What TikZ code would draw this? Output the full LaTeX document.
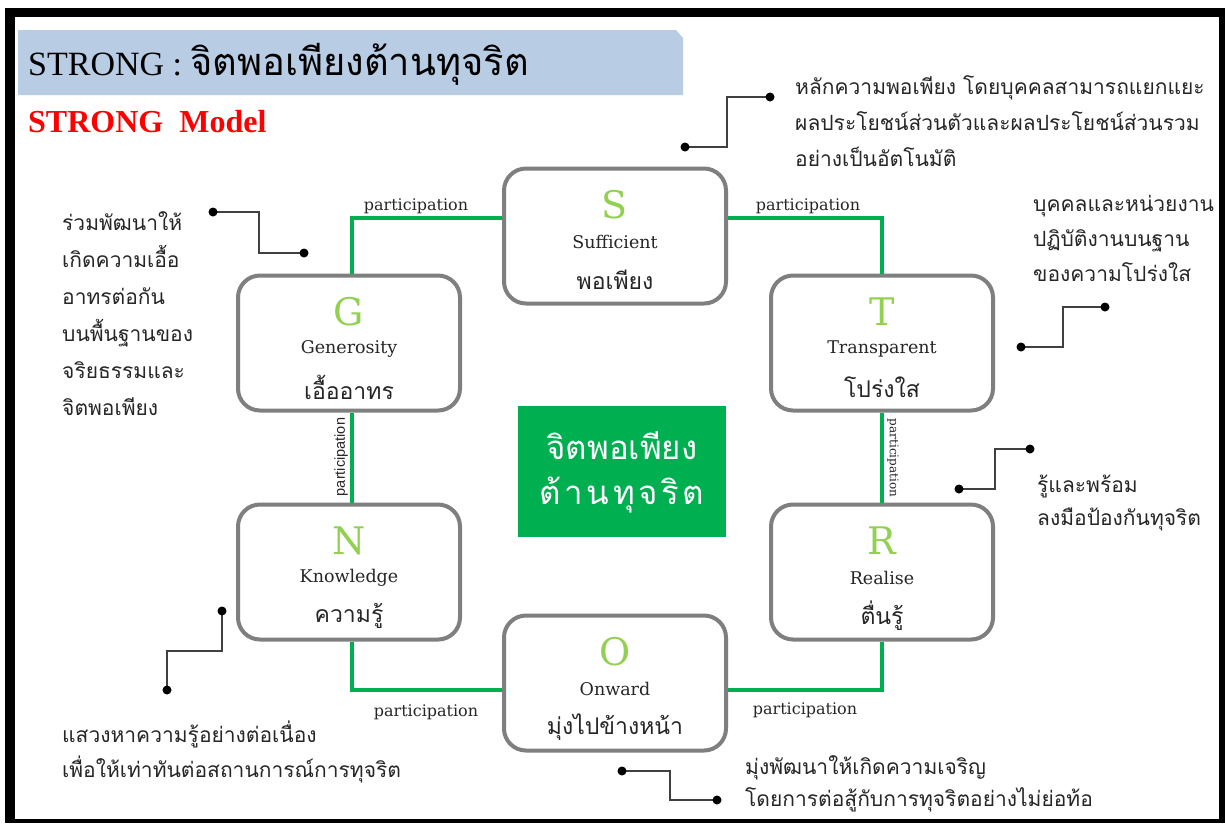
\documentclass[tikz,border=0pt]{standalone}
\usepackage{fontspec}
\setmainfont{Liberation Serif}
\newfontfamily\thai[Script=Thai]{Loma}
\newfontfamily\thaisp[Script=Thai,LetterSpace=11]{Loma}
\newfontfamily\engf{DejaVu Serif}
\newfontfamily\sansf{Liberation Sans}
\definecolor{linegreen}{HTML}{00B050}
\definecolor{lettergreen}{HTML}{92D050}
\definecolor{boxgray}{HTML}{7F7F7F}
\definecolor{callgray}{HTML}{404040}
\definecolor{titleblue}{HTML}{B8CCE4}
\definecolor{txt}{HTML}{262626}
\tikzset{
  sbox/.style={draw=boxgray, line width=4pt, rounded corners=22pt, fill=white,
    minimum width=222pt, minimum height=135pt, inner sep=0pt},
  letr/.style={text=lettergreen, font=\engf\fontsize{38}{38}\selectfont, inner sep=0pt},
  engw/.style={text=txt, font=\engf\fontsize{17.5}{17.5}\selectfont, inner sep=0pt},
  thw/.style={text=txt, font=\thai\fontsize{23}{23}\selectfont, inner sep=0pt},
  gline/.style={draw=linegreen, line width=4pt},
  plabel/.style={text=txt, font=\engf\fontsize{16}{16}\selectfont, inner sep=0pt},
  cline/.style={draw=callgray, line width=1.6pt},
  cdot/.style={fill=black},
  ctext/.style={text=txt, align=left, anchor=west, inner sep=0pt},
}
\newcommand\strongbox[5]{%
  \node[sbox] (#1) at (#2) {};
  \node[letr] (#1-l) at ([yshift=31pt]#1.center) {#3};
  \node[engw] (#1-e) at ([yshift=-6pt]#1.center) {#4};
  \node[thw] (#1-t) at ([yshift=-44pt]#1.center) {#5};
}
\begin{document}
\begin{tikzpicture}[x=1pt,y=-1pt]
\useasboundingbox (0,0) rectangle (1225,823);
% frame
\fill[black] (5,8) rectangle (1225,823);
\fill[white] (15,17) rectangle (1219,819);
% title band
\fill[titleblue] (18,30) -- (676,30) -- (683,38) -- (683,95) -- (18,95) -- cycle;
\node[anchor=west, inner sep=0pt, font=\fontsize{34}{34}\selectfont] (title) at (28,64)
  {STRONG : {\thai\fontsize{38}{38}\selectfont จิตพอเพียงต้านทุจริต}};
\node[anchor=west, inner sep=0pt, text=red, font=\bfseries\fontsize{32}{32}\selectfont] (model) at (28,122)
  {STRONG\ \ Model};
% boxes
\strongbox{S}{615,236}{S}{Sufficient}{พอเพียง}
\strongbox{G}{349,343}{G}{Generosity}{เอื้ออาทร}
\strongbox{T}{882,343}{T}{Transparent}{โปร่งใส}
\strongbox{N}{349,572}{N}{Knowledge}{ความรู้}
\strongbox{R}{882,572}{R}{Realise}{ตื่นรู้}
\strongbox{O}{615,683}{O}{Onward}{มุ่งไปข้างหน้า}
% centre
\node[fill=linegreen, minimum width=208pt, minimum height=131pt, inner sep=0pt] (C) at (622,471) {};
\node[text=white, font=\thai\fontsize{33}{33}\selectfont, inner sep=0pt] (C1) at ([yshift=25pt]C.center) {จิตพอเพียง};
\node[text=white, font=\thaisp\fontsize{33}{33}\selectfont, inner sep=0pt] (C2) at ([yshift=-24pt]C.center) {ต้านทุจริต};
% green connectors
\draw[gline] ([xshift=3pt]G.north) |- ([yshift=18pt]S.west);
\draw[gline] ([yshift=18pt]S.east) -| (T.north);
\draw[gline] ([xshift=3pt]G.south) -- ([xshift=3pt]N.north);
\draw[gline] (T.south) -- (R.north);
\draw[gline] ([xshift=3pt]N.south) |- ([yshift=-7pt]O.west);
\draw[gline] (R.south) |- ([yshift=-7pt]O.east);
% participation labels
\node[plabel] (p1) at (416,206) {participation};
\node[plabel] (p2) at (808,206) {participation};
\node[plabel] (p5) at (426,712) {participation};
\node[plabel] (p6) at (805,710) {participation};
\node[text=txt, font=\sansf\fontsize{14.5}{14.5}\selectfont, inner sep=0pt, rotate=90] (p3) at (341,457) {participation};
\node[plabel, font=\engf\fontsize{12}{12}\selectfont, rotate=-90] (p4) at (893,458) {participation};
% callouts
\coordinate (s1) at (685,147); \coordinate (s2) at (770,97);
\draw[cline] (s1) -- ++(42,0) |- (s2);
\coordinate (g1) at (213,212); \coordinate (g2) at (304,253);
\draw[cline] (g1) -- ++(46,0) |- (g2);
\coordinate (t1) at (1021,347); \coordinate (t2) at (1105,307);
\draw[cline] (t1) -- ++(42,0) |- (t2);
\coordinate (r1) at (959,489); \coordinate (r2) at (1030,449);
\draw[cline] (r1) -- ++(36,0) |- (r2);
\coordinate (n1) at (222,611); \coordinate (n2) at (167,690);
\draw[cline] (n1) -- ++(0,40) -| (n2);
\coordinate (o1) at (622,771); \coordinate (o2) at (717,800);
\draw[cline] (o1) -- ++(48,0) |- (o2);
\foreach \c in {s1,s2,g1,g2,t1,t2,r1,r2,n1,n2,o1,o2} \fill[cdot] (\c) circle (4.5pt);
% callout texts
\node[ctext, font=\thai\fontsize{21}{36}\selectfont] (st) at (795,121)
  {หลักความพอเพียง โดยบุคคลสามารถแยกแยะ\\ผลประโยชน์ส่วนตัวและผลประโยชน์ส่วนรวม\\อย่างเป็นอัตโนมัติ};
\node[ctext, font=\thai\fontsize{21}{37}\selectfont] (gt) at (62,314)
  {ร่วมพัฒนาให้\\เกิดความเอื้อ\\อาทรต่อกัน\\บนพื้นฐานของ\\จริยธรรมและ\\จิตพอเพียง};
\node[ctext, font=\thai\fontsize{21}{35}\selectfont] (tt) at (1033,238)
  {บุคคลและหน่วยงาน\\ปฏิบัติงานบนฐาน\\ของความโปร่งใส};
\node[ctext, font=\thai\fontsize{21}{33}\selectfont] (rt) at (1037,503)
  {รู้และพร้อม\\ลงมือป้องกันทุจริต};
\node[ctext, font=\thai\fontsize{21}{35}\selectfont] (nt) at (62,752)
  {แสวงหาความรู้อย่างต่อเนื่อง\\เพื่อให้เท่าทันต่อสถานการณ์การทุจริต};
\node[ctext, font=\thai\fontsize{21}{32}\selectfont] (ot) at (745,784)
  {มุ่งพัฒนาให้เกิดความเจริญ\\โดยการต่อสู้กับการทุจริตอย่างไม่ย่อท้อ};
\end{tikzpicture}
\end{document}
